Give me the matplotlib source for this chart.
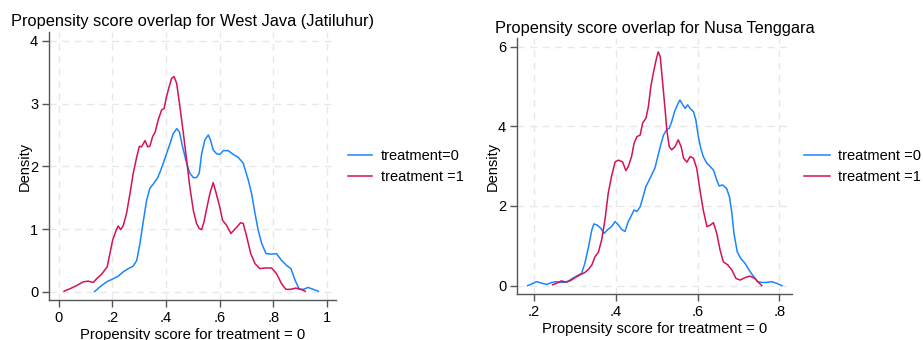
import matplotlib
matplotlib.use("Agg")
import matplotlib.pyplot as plt
from matplotlib.transforms import Bbox, TransformedBbox

plt.rcParams['font.family'] = ['Liberation Sans', 'DejaVu Sans']

# West Java (Jatiluhur) densities
wj_x0 = [0.134, 0.154, 0.179, 0.204, 0.222, 0.241, 0.26, 0.278, 0.291, 0.303, 0.316, 0.328,
         0.34, 0.353, 0.368, 0.378, 0.39, 0.402, 0.415, 0.427, 0.44, 0.45, 0.462, 0.477,
         0.489, 0.502, 0.514, 0.524, 0.533, 0.545, 0.558, 0.566, 0.576, 0.589, 0.601, 0.614,
         0.632, 0.651, 0.67, 0.688, 0.707, 0.719, 0.732, 0.744, 0.757, 0.773, 0.794, 0.812,
         0.831, 0.85, 0.866, 0.881, 0.897, 0.912, 0.93, 0.949, 0.968]
wj_y0 = [0.005, 0.08, 0.16, 0.21, 0.25, 0.32, 0.37, 0.41, 0.50, 0.77, 1.14, 1.46,
         1.65, 1.72, 1.81, 1.91, 2.05, 2.20, 2.36, 2.52, 2.60, 2.55, 2.31, 2.05,
         1.89, 1.82, 1.82, 1.89, 2.20, 2.42, 2.50, 2.42, 2.26, 2.20, 2.19, 2.25,
         2.25, 2.19, 2.14, 2.05, 1.78, 1.57, 1.25, 0.98, 0.77, 0.61, 0.60, 0.61,
         0.50, 0.42, 0.37, 0.19, 0.04, 0.04, 0.07, 0.04, 0.01]
wj_x1 = [0.02, 0.042, 0.067, 0.092, 0.11, 0.129, 0.142, 0.16, 0.181, 0.191, 0.201, 0.214,
         0.222, 0.231, 0.241, 0.253, 0.266, 0.278, 0.291, 0.301, 0.309, 0.322, 0.332, 0.34,
         0.35, 0.36, 0.371, 0.384, 0.393, 0.402, 0.412, 0.421, 0.43, 0.44, 0.452, 0.465,
         0.477, 0.489, 0.502, 0.514, 0.524, 0.533, 0.542, 0.552, 0.564, 0.576, 0.586, 0.599,
         0.611, 0.626, 0.642, 0.655, 0.666, 0.678, 0.688, 0.701, 0.716, 0.732, 0.75, 0.769,
         0.794, 0.812, 0.831, 0.847, 0.865, 0.884, 0.903, 0.919]
wj_y1 = [0.01, 0.05, 0.10, 0.16, 0.17, 0.15, 0.21, 0.28, 0.40, 0.61, 0.82, 0.98,
         1.05, 0.99, 1.06, 1.25, 1.57, 1.89, 2.15, 2.32, 2.31, 2.41, 2.31, 2.32,
         2.47, 2.55, 2.74, 2.90, 2.92, 3.11, 3.27, 3.40, 3.43, 3.32, 2.95, 2.52,
         2.10, 1.67, 1.30, 1.09, 1.01, 0.99, 1.12, 1.33, 1.57, 1.74, 1.59, 1.38,
         1.14, 1.06, 0.93, 0.99, 1.04, 1.10, 1.09, 0.88, 0.61, 0.45, 0.37, 0.38,
         0.38, 0.29, 0.13, 0.04, 0.04, 0.06, 0.04, 0.01]

# Nusa Tenggara densities
nt_x0 = [0.185, 0.195, 0.207, 0.22, 0.232, 0.244, 0.256, 0.268, 0.281, 0.293, 0.305, 0.317,
         0.325, 0.334, 0.342, 0.347, 0.355, 0.364, 0.372, 0.381, 0.39, 0.399, 0.407, 0.415,
         0.423, 0.431, 0.439, 0.445, 0.452, 0.46, 0.466, 0.474, 0.48, 0.488, 0.496, 0.503,
         0.509, 0.517, 0.525, 0.531, 0.537, 0.544, 0.551, 0.557, 0.564, 0.57, 0.576, 0.582,
         0.59, 0.596, 0.602, 0.608, 0.614, 0.623, 0.631, 0.639, 0.647, 0.653, 0.661, 0.671,
         0.678, 0.684, 0.689, 0.697, 0.705, 0.716, 0.726, 0.736, 0.747, 0.757, 0.769, 0.781,
         0.793, 0.806]
nt_y0 = [0.0, 0.04, 0.10, 0.06, 0.03, 0.08, 0.10, 0.08, 0.09, 0.17, 0.24, 0.31,
         0.56, 0.98, 1.40, 1.55, 1.52, 1.44, 1.31, 1.41, 1.48, 1.61, 1.52, 1.41,
         1.36, 1.61, 1.77, 1.90, 1.86, 1.98, 2.19, 2.49, 2.61, 2.78, 2.95, 3.24,
         3.49, 3.78, 3.92, 3.95, 4.12, 4.37, 4.54, 4.66, 4.54, 4.45, 4.54, 4.45,
         4.37, 4.16, 3.74, 3.45, 3.24, 3.07, 2.99, 2.90, 2.65, 2.50, 2.53, 2.44,
         2.23, 1.82, 1.31, 0.85, 0.69, 0.56, 0.39, 0.24, 0.10, 0.08, 0.08, 0.10,
         0.06, 0.0]
nt_x1 = [0.246, 0.256, 0.268, 0.277, 0.289, 0.301, 0.313, 0.325, 0.334, 0.342, 0.35, 0.358,
         0.366, 0.374, 0.382, 0.39, 0.399, 0.407, 0.417, 0.425, 0.431, 0.439, 0.445, 0.452,
         0.46, 0.466, 0.474, 0.48, 0.486, 0.492, 0.499, 0.504, 0.509, 0.515, 0.521, 0.525,
         0.531, 0.537, 0.545, 0.553, 0.56, 0.566, 0.574, 0.582, 0.59, 0.598, 0.606, 0.614,
         0.623, 0.631, 0.639, 0.647, 0.655, 0.663, 0.674, 0.684, 0.694, 0.704, 0.716, 0.728,
         0.74, 0.749, 0.757]
nt_y1 = [0.02, 0.06, 0.12, 0.09, 0.12, 0.20, 0.27, 0.33, 0.41, 0.52, 0.73, 0.84,
         1.15, 1.65, 2.32, 2.74, 3.11, 3.15, 3.11, 2.89, 2.99, 3.24, 3.57, 3.74,
         3.78, 4.08, 4.20, 4.49, 5.00, 5.33, 5.67, 5.87, 5.75, 5.08, 4.41, 3.91,
         3.49, 3.41, 3.49, 3.66, 3.49, 3.20, 3.10, 3.24, 3.20, 2.95, 2.40, 1.90,
         1.48, 1.52, 1.58, 1.31, 0.90, 0.60, 0.52, 0.39, 0.18, 0.14, 0.20, 0.24,
         0.18, 0.08, 0.0]

wj_xticks = [0, 0.2, 0.4, 0.6, 0.8, 1]
wj_xlabels = ['0', '.2', '.4', '.6', '.8', '1']
wj_yticks = [0, 1, 2, 3, 4]
nt_xticks = [0.2, 0.4, 0.6, 0.8]
nt_xlabels = ['.2', '.4', '.6', '.8']
nt_yticks = [0, 2, 4, 6]

BLUE = '#1a85ff'
RED = '#d41159'
W, H = 923, 340

fig = plt.figure(figsize=(W / 100, H / 100), dpi=100)


def style(ax, xticks, xlabels, yticks, xlim, ylim, title):
    ax.set_xlim(*xlim)
    ax.set_ylim(*ylim)
    ax.set_xticks(xticks)
    ax.set_xticklabels(xlabels)
    ax.set_yticks(yticks)
    ax.grid(True, color='#e8e8e8', linestyle=(0, (5, 4)), linewidth=1.0)
    ax.set_axisbelow(True)
    for s in ['top', 'right']:
        ax.spines[s].set_visible(False)
    for s in ['left', 'bottom']:
        ax.spines[s].set_color('#555555')
        ax.spines[s].set_linewidth(1.0)
    ax.tick_params(direction='out', length=5, width=1.0, color='#555555',
                   labelsize=10.5, pad=3)
    ax.set_xlabel('Propensity score for treatment = 0', fontsize=10.7, labelpad=2)
    ax.set_ylabel('Density', fontsize=10.5, labelpad=-1)
    ax.set_title(title, fontsize=11.8, pad=4)


ax1 = fig.add_axes([49.3 / W, 1 - 300 / H, (336 - 49.3) / W, (300 - 32) / H])
ax1.plot(wj_x0, wj_y0, color=BLUE, lw=1.1, label='treatment=0')
ax1.plot(wj_x1, wj_y1, color=RED, lw=1.1, label='treatment =1')
style(ax1, wj_xticks, wj_xlabels, wj_yticks, (-0.035, 1.034), (-0.13, 4.14),
      'Propensity score overlap for West Java (Jatiluhur)')
leg1 = ax1.legend(loc='center left', bbox_to_anchor=(348 / W, 1 - 166.7 / H),
                  bbox_transform=fig.transFigure, frameon=False, fontsize=10.5,
                  handlelength=1.65, handletextpad=0.6, borderpad=0, borderaxespad=0,
                  labelspacing=0.5)
clip = TransformedBbox(Bbox([[0, 0], [463 / W, 1]]), fig.transFigure)
for t in leg1.get_texts():
    t.set_clip_box(clip)
    t.set_clip_on(True)

ax2 = fig.add_axes([517.3 / W, 1 - 294 / H, (791.7 - 517.3) / W, (294 - 38.3) / H])
ax2.plot(nt_x0, nt_y0, color=BLUE, lw=1.1, label='treatment =0')
ax2.plot(nt_x1, nt_y1, color=RED, lw=1.1, label='treatment =1')
style(ax2, nt_xticks, nt_xlabels, nt_yticks, (0.16, 0.83), (-0.21, 6.21),
      'Propensity score overlap for Nusa Tenggara')
ax2.legend(loc='center left', bbox_to_anchor=(804 / W, 1 - 166.7 / H),
           bbox_transform=fig.transFigure, frameon=False, fontsize=10.5,
           handlelength=1.75, handletextpad=0.6, borderpad=0, borderaxespad=0,
           labelspacing=0.5)

fig.savefig('out.png', dpi=100)
